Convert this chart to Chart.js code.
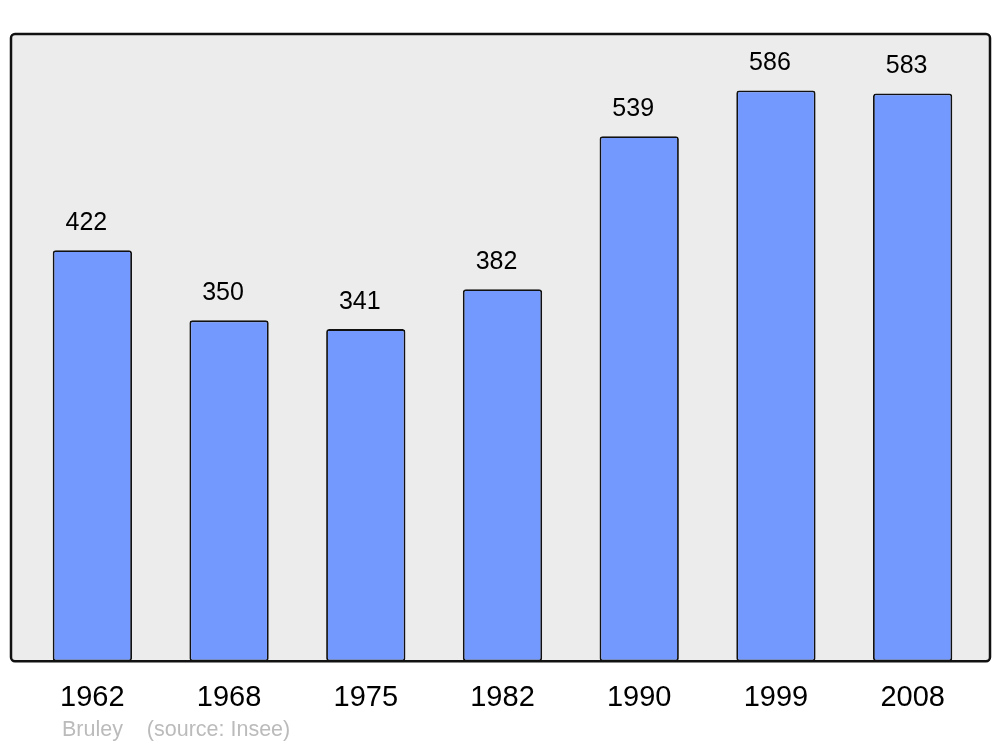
<!DOCTYPE html>
<html>
<head>
<meta charset="utf-8">
<script src="https://cdn.jsdelivr.net/npm/chart.js@4"></script>
<style>
  html, body { margin: 0; padding: 0; background: #fff; }
  #wrap { width: 1000px; height: 747px; }
</style>
</head>
<body>
<div id="wrap"><canvas id="popChart" width="1000" height="747"></canvas></div>
<script>
const years = ['1962', '1968', '1975', '1982', '1990', '1999', '2008'];
const population = [422, 350, 341, 382, 539, 586, 583];
const footerText = 'Bruley    (source: Insee)';

// grey panel with a dark rounded border behind the bars
const framePlugin = {
    id: 'frame',
    beforeDatasetsDraw(chart) {
        const a = chart.chartArea;
        const ctx = chart.ctx;
        ctx.save();
        ctx.beginPath();
        ctx.roundRect(a.left - 13, a.top, a.right - a.left + 22, a.bottom - a.top, 4);
        ctx.fillStyle = '#ececec';
        ctx.fill();
        ctx.restore();
    },
    afterDatasetsDraw(chart) {
        const a = chart.chartArea;
        const ctx = chart.ctx;
        ctx.save();
        ctx.beginPath();
        ctx.roundRect(a.left - 13, a.top, a.right - a.left + 22, a.bottom - a.top, 4);
        ctx.lineWidth = 2.5;
        ctx.strokeStyle = '#111';
        ctx.stroke();

        // value labels above each bar
        ctx.fillStyle = '#000';
        ctx.font = '25px "Liberation Sans", Arial, sans-serif';
        ctx.textAlign = 'center';
        ctx.textBaseline = 'middle';
        chart.getDatasetMeta(0).data.forEach((bar, i) => {
            ctx.fillText(String(population[i]), bar.x - 6, bar.y - 27);
        });

        // credit line
        ctx.fillStyle = '#bbbbbb';
        ctx.font = '21.5px "Liberation Sans", Arial, sans-serif';
        ctx.textAlign = 'left';
        ctx.fillText(footerText, 62, 730);
        ctx.restore();
    }
};

const ctx = document.getElementById('popChart').getContext('2d');
new Chart(ctx, {
    type: 'bar',
    data: {
        labels: years,
        datasets: [{
            data: population,
            backgroundColor: '#7399ff',
            borderColor: '#111',
            borderWidth: 1.8,
            borderRadius: 3,
            borderSkipped: false,
            barPercentage: 0.58,
            categoryPercentage: 1
        }]
    },
    options: {
        responsive: false,
        animation: false,
        layout: { padding: { left: 24, right: 19, top: 34, bottom: 13 } },
        plugins: {
            legend: { display: false },
            tooltip: { enabled: false }
        },
        scales: {
            x: {
                grid: { display: false, drawTicks: false },
                border: { display: false },
                ticks: {
                    color: '#000',
                    padding: 19,
                    font: { family: '"Liberation Sans", Arial, sans-serif', size: 29 }
                }
            },
            y: {
                display: false,
                min: 0,
                max: 644
            }
        }
    },
    plugins: [framePlugin]
});
</script>
</body>
</html>
